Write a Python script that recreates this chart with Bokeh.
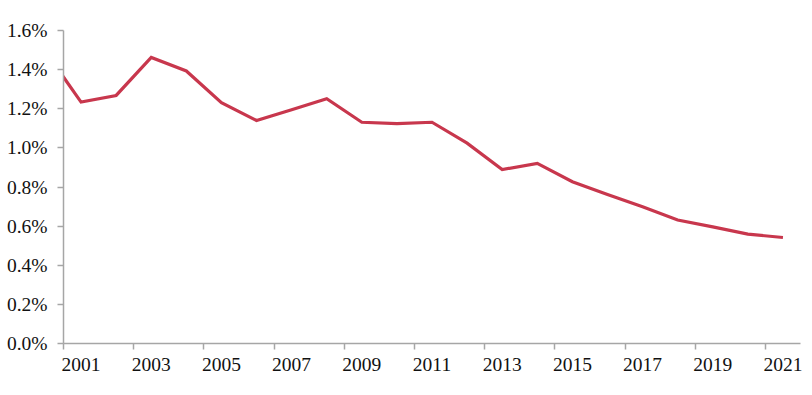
from bokeh.plotting import figure
from bokeh.models import FixedTicker, PrintfTickFormatter, Range1d, ColumnDataSource
from bokeh.embed import file_html
from bokeh.resources import INLINE

# Data (percent)
years = [2000, 2001, 2002, 2003, 2004, 2005, 2006, 2007, 2008, 2009, 2010,
         2011, 2012, 2013, 2014, 2015, 2016, 2017, 2018, 2019, 2020, 2021]
rate = [1.49, 1.234, 1.268, 1.462, 1.393, 1.231, 1.140, 1.195, 1.251, 1.131, 1.124,
        1.131, 1.024, 0.889, 0.921, 0.827, 0.762, 0.699, 0.631, 0.596, 0.559, 0.542]
x_labels = [2001, 2003, 2005, 2007, 2009, 2011, 2013, 2015, 2017, 2019, 2021]
x_tick_marks = [2000.5, 2002.5, 2004.5, 2006.5, 2008.5, 2010.5, 2012.5, 2014.5,
                2016.5, 2018.5, 2020.5]
y_ticks = [0.0, 0.2, 0.4, 0.6, 0.8, 1.0, 1.2, 1.4, 1.6]

FONT = "Liberation Serif"
AXIS_COLOR = "#A6A6A6"

p = figure(width=804, height=387, output_backend="svg", toolbar_location=None,
           x_range=Range1d(2000.5, 2021.5), y_range=Range1d(0, 1.6),
           min_border_left=63, min_border_right=4, min_border_top=30,
           min_border_bottom=44)
p.outline_line_color = None
p.xgrid.grid_line_color = None
p.ygrid.grid_line_color = None
p.background_fill_color = "white"

src = ColumnDataSource(dict(x=years, y=rate))
p.line("x", "y", source=src, line_color="#C8374D", line_width=3.2, line_join="miter")

# X axis
xa = p.xaxis[0]
xa.ticker = FixedTicker(ticks=x_labels, minor_ticks=x_tick_marks)
xa.major_tick_line_color = None
xa.major_tick_out = 0
xa.major_tick_in = 0
xa.minor_tick_line_color = AXIS_COLOR
xa.minor_tick_out = 6
xa.minor_tick_in = 0
xa.axis_line_color = AXIS_COLOR
xa.axis_line_width = 1.5
xa.minor_tick_line_width = 1.5
xa.major_label_text_font = FONT
xa.major_label_text_font_size = "19.5px"
xa.major_label_text_color = "#111111"
xa.major_label_standoff = 8

# Y axis
ya = p.yaxis[0]
ya.ticker = FixedTicker(ticks=y_ticks, minor_ticks=[])
ya.formatter = PrintfTickFormatter(format="%.1f%%")
ya.major_tick_line_color = AXIS_COLOR
ya.major_tick_out = 6
ya.major_tick_in = 0
ya.major_tick_line_width = 1.5
ya.axis_line_color = AXIS_COLOR
ya.axis_line_width = 1.5
ya.major_label_text_font = FONT
ya.major_label_text_font_size = "19.5px"
ya.major_label_text_color = "#111111"
ya.major_label_standoff = 10

open("out.html", "w").write(file_html(p, INLINE))
